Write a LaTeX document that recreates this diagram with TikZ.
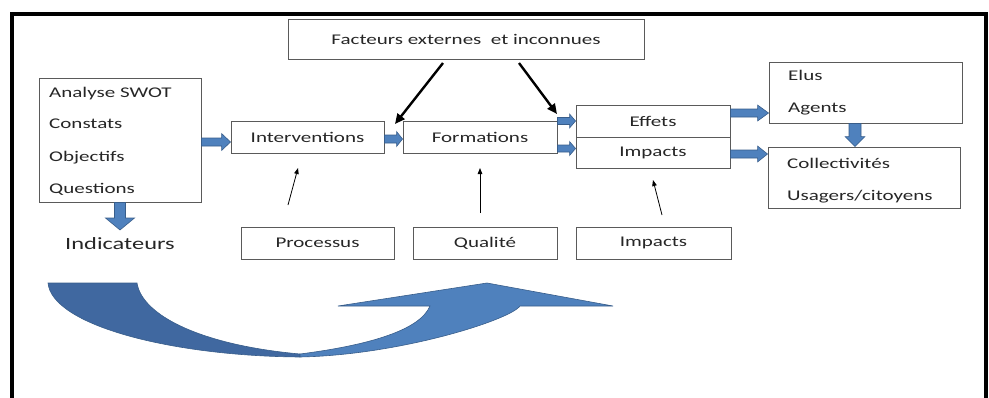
\documentclass[tikz,border=0pt]{standalone}
\usepackage{fontspec}
\setmainfont[FakeStretch=1.42]{Carlito}
\usetikzlibrary{calc,arrows.meta}
\definecolor{arrfill}{HTML}{4F81BD}
\definecolor{arrline}{HTML}{385D8A}
\definecolor{curvedark}{HTML}{4068A0}
\definecolor{boxline}{HTML}{5A5A5A}
\definecolor{txt}{HTML}{262626}
\newcommand\lblfont{\fontsize{14.8}{17}\selectfont}
\newcommand\bigfont{\fontsize{17.2}{20}\selectfont}
\begin{document}
\begin{tikzpicture}[x=1pt,y=-1pt,
  box/.style={draw=boxline, line width=0.9pt, inner sep=0pt, font=\lblfont, text=txt},
  lbl/.style={inner sep=0pt, anchor=base west, font=\lblfont, text=txt},
  harrow/.style n args={3}{fill=arrfill, draw=arrline, line width=0.6pt,
    to path={let \p1=(\tikztostart), \p2=(\tikztotarget) in
      (\x1,\y1+#1) -- (\x2-#3,\y1+#1) -- (\x2-#3,\y1+#2) -- (\x2,\y1)
      -- (\x2-#3,\y1-#2) -- (\x2-#3,\y1-#1) -- (\x1,\y1-#1) -- cycle}},
  varrow/.style n args={3}{fill=arrfill, draw=arrline, line width=0.6pt,
    to path={let \p1=(\tikztostart), \p2=(\tikztotarget) in
      (\x1-#1,\y1) -- (\x1-#1,\y2+#3) -- (\x1-#2,\y2+#3) -- (\x1,\y2)
      -- (\x1+#2,\y2+#3) -- (\x1+#1,\y2+#3) -- (\x1+#1,\y1) -- cycle}},
  bold arrow/.style={line width=2.4pt, -{Triangle[length=10pt,width=9pt]}},
  thin arrow/.style={line width=0.8pt, -{Triangle[length=6pt,width=4.5pt]}}
]
\useasboundingbox (0,0) rectangle (989,397);
% frame
\draw[line width=3.6pt] (12,399) -- (12,14) -- (986,14) -- (986,399);

% boxes
\node[box, minimum width=162pt, minimum height=124pt] (ana) at (120,140) {};
\node[lbl] (l1) at (49,97) {Analyse SWOT};
\node[lbl] (l2) at (49,128) {Constats};
\node[lbl] (l3) at (49,161) {Objectifs};
\node[lbl] (l4) at (49,193) {Questions};

\node[box, minimum width=356pt, minimum height=40pt] (fact) at (466,39) {Facteurs externes \ et inconnues};
\node[box, minimum width=153pt, minimum height=32pt] (int) at (307.5,137) {Interventions};
\node[box, minimum width=154pt, minimum height=32pt] (form) at (480,137) {Formations};
\node[box, minimum width=154pt, minimum height=32pt] (eff) at (653,121) {Effets};
\node[box, minimum width=154pt, minimum height=31pt] (imp) at (653,152.5) {Impacts};

\node[box, minimum width=193pt, minimum height=61pt] (elus) at (865.5,92.5) {};
\node[lbl] (e1) at (788,80) {Elus};
\node[lbl] (e2) at (788,112) {Agents};
\node[box, minimum width=192pt, minimum height=61pt] (coll) at (864,177.5) {};
\node[lbl] (c1) at (787,168) {Collectivités};
\node[lbl] (c2) at (787,200) {Usagers/citoyens};

\node[inner sep=0pt, font=\bigfont, text=txt] (ind) at (120,244) {Indicateurs};
\node[box, minimum width=153pt, minimum height=32pt] (proc) at (317.5,243) {Processus};
\node[box, minimum width=144pt, minimum height=32pt] (qual) at (485,243) {Qualité};
\node[box, minimum width=155pt, minimum height=32pt] (impb) at (653.5,243) {Impacts};

% block arrows
\draw[harrow={4pt}{8.5pt}{9pt}] ([yshift=-2pt]ana.east) to ([yshift=-2pt]int.west);
\draw[harrow={4pt}{7.5pt}{6pt}] ([yshift=-2pt]int.east) to ([yshift=-2pt]form.west);
\draw[harrow={3.5pt}{7pt}{6pt}] (form.east |- eff.center) to (eff.west);
\draw[harrow={3.5pt}{7pt}{6pt}] ([yshift=4pt]form.east |- imp.center) to ([yshift=4pt]imp.west);
\draw[harrow={4pt}{8pt}{11pt}] ([yshift=8pt]eff.east) to ([yshift=8pt]eff.east -| elus.west);
\draw[harrow={4pt}{8pt}{10pt}] ([yshift=-1.5pt]imp.east) to ([yshift=-1.5pt]imp.east -| coll.west);
\draw[varrow={6pt}{10pt}{10pt}] (elus.south -| 855,0) to (coll.north -| 855,0);
\coordinate (indtop) at (120,230);
\draw[varrow={5.5pt}{14.5pt}{12pt}] (ana.south) to (indtop);

% bold arrows from external factors
\coordinate (f1) at (443,63);
\coordinate (f1e) at (395,124);
\coordinate (f2) at (519,63);
\coordinate (f2e) at (557,114);
\draw[bold arrow] (f1) -- (f1e);
\draw[bold arrow] (f2) -- (f2e);

% thin arrows
\coordinate (t1s) at (288,205);
\coordinate (t1e) at (298,168);
\coordinate (t2s) at (480,213);
\coordinate (t2e) at (480,168);
\coordinate (t3s) at (662,215);
\coordinate (t3e) at (653,180);
\draw[thin arrow] (t1s) -- (t1e);
\draw[thin arrow] (t2s) -- (t2e);
\draw[thin arrow] (t3s) -- (t3e);

% curved arrow
\fill[curvedark, draw=arrline, line width=0.6pt]
  (48,283) -- (137,283) .. controls (142,315) and (200,345) .. (300,354)
  -- (300,357) .. controls (170,356) and (52,325) .. (48,283) -- cycle;
\fill[arrfill, draw=arrline, line width=0.6pt]
  (300,354) .. controls (370,345) and (420,330) .. (430,306)
  -- (338,306) -- (487,283) -- (613,306) -- (520,306)
  .. controls (510,320) and (400,355) .. (300,357) -- cycle;
\end{tikzpicture}
\end{document}
